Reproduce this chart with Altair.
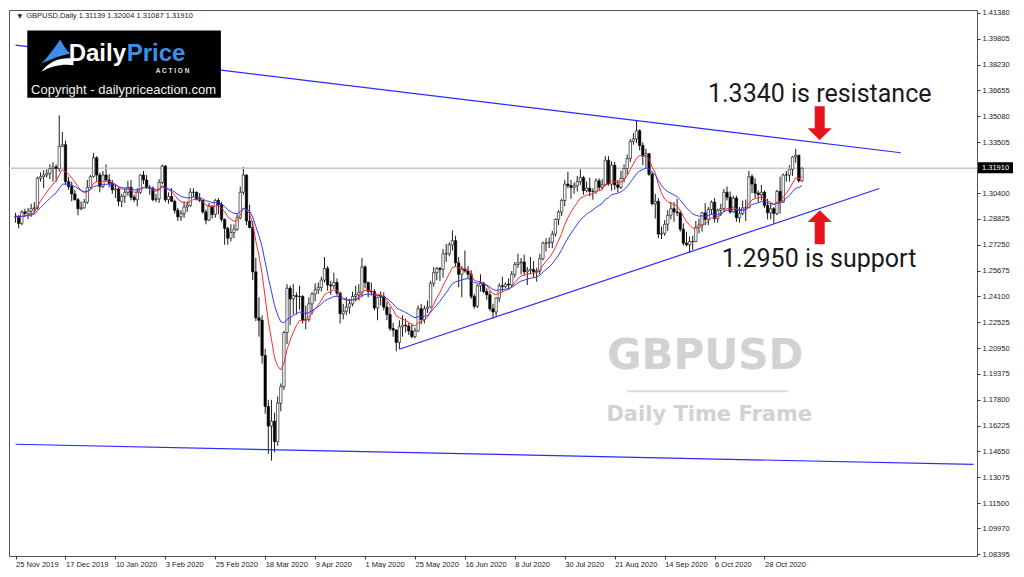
import altair as alt
import pandas as pd

# ---------------- data ----------------
x_labels = ["25 Nov 2019", "17 Dec 2019", "10 Jan 2020", "3 Feb 2020", "25 Feb 2020",
            "18 Mar 2020", "9 Apr 2020", "1 May 2020", "25 May 2020", "16 Jun 2020",
            "8 Jul 2020", "30 Jul 2020", "21 Aug 2020", "14 Sep 2020", "6 Oct 2020",
            "28 Oct 2020"]
x_label_bars = [0, 16, 32, 48, 64, 80, 96, 112, 128, 144, 160, 176, 192, 208, 224, 240]
y_ticks = [1.41380, 1.39805, 1.38230, 1.36655, 1.35080, 1.33505, 1.30400, 1.28825,
           1.27250, 1.25675, 1.24100, 1.22525, 1.20950, 1.19375, 1.17800, 1.16225,
           1.14650, 1.13075, 1.11500, 1.09970, 1.08395]

opens = [
    1.2895, 1.2900, 1.2855, 1.2925, 1.2915, 1.2930, 1.2945, 1.2950, 1.3130, 1.3140,
    1.3150, 1.3160, 1.3190, 1.3200, 1.3190, 1.3325, 1.3335, 1.3110, 1.3080, 1.3035,
    1.3000, 1.2945, 1.2950, 1.2985, 1.3075, 1.3140, 1.3255, 1.3150, 1.3080, 1.3150,
    1.3120, 1.3100, 1.3060, 1.3065, 1.2990, 1.3020, 1.3045, 1.3075, 1.3015, 1.3000,
    1.3045, 1.3150, 1.3120, 1.3075, 1.3070, 1.3000, 1.3005, 1.3105, 1.3205, 1.3000,
    1.3020, 1.2990, 1.2935, 1.2895, 1.2915, 1.2955, 1.2965, 1.3045, 1.3045, 1.3005,
    1.2995, 1.2925, 1.2875, 1.2960, 1.2910, 1.2995, 1.2970, 1.2880, 1.2825, 1.2765,
    1.2800, 1.2820, 1.2890, 1.3045, 1.3150, 1.2870, 1.2830, 1.2560, 1.2280, 1.2265,
    1.2050, 1.1740, 1.1620, 1.1650, 1.1525, 1.1760, 1.1860, 1.2190, 1.2460, 1.2395,
    1.2415, 1.2410, 1.2410, 1.2265, 1.2270, 1.2365, 1.2425, 1.2450, 1.2465, 1.2510,
    1.2580, 1.2480, 1.2475, 1.2495, 1.2430, 1.2305, 1.2320, 1.2345, 1.2365, 1.2410,
    1.2420, 1.2435, 1.2590, 1.2495, 1.2440, 1.2440, 1.2340, 1.2405, 1.2410, 1.2345,
    1.2300, 1.2215, 1.2205, 1.2130, 1.2225, 1.2235, 1.2230, 1.2200, 1.2165, 1.2200,
    1.2335, 1.2270, 1.2335, 1.2345, 1.2490, 1.2555, 1.2580, 1.2575, 1.2670, 1.2670,
    1.2725, 1.2750, 1.2615, 1.2545, 1.2575, 1.2565, 1.2545, 1.2410, 1.2350, 1.2475,
    1.2490, 1.2440, 1.2420, 1.2335, 1.2315, 1.2400, 1.2475, 1.2470, 1.2485, 1.2480,
    1.2545, 1.2605, 1.2615, 1.2620, 1.2560, 1.2570, 1.2575, 1.2560, 1.2565, 1.2640,
    1.2735, 1.2735, 1.2740, 1.2790, 1.2880, 1.2925, 1.2995, 1.3095, 1.3085, 1.3075,
    1.3085, 1.3110, 1.3135, 1.3055, 1.3070, 1.3050, 1.3050, 1.3115, 1.3075, 1.3090,
    1.3240, 1.3095, 1.3210, 1.3090, 1.3075, 1.3130, 1.3190, 1.3250, 1.3355, 1.3370,
    1.3420, 1.3330, 1.3265, 1.3280, 1.3155, 1.2975, 1.2990, 1.2790, 1.2795, 1.2850,
    1.2905, 1.2945, 1.2925, 1.2920, 1.2820, 1.2735, 1.2725, 1.2745, 1.2745, 1.2830,
    1.2845, 1.2920, 1.2880, 1.2940, 1.2985, 1.2885, 1.2935, 1.2945, 1.3045, 1.3015,
    1.2925, 1.3010, 1.2890, 1.2915, 1.2950, 1.2950, 1.3140, 1.3095, 1.3040, 1.3030,
    1.3045, 1.2965, 1.2920, 1.2945, 1.2915, 1.3050, 1.2985, 1.3150, 1.3150, 1.3185,
    1.3260, 1.3270, 1.3114]
highs = [
    1.2920, 1.2905, 1.2935, 1.2945, 1.2950, 1.2975, 1.2985, 1.3140, 1.3165, 1.3180,
    1.3185, 1.3215, 1.3230, 1.3215, 1.3514, 1.3412, 1.3360, 1.3140, 1.3110, 1.3060,
    1.3010, 1.2990, 1.3005, 1.3120, 1.3150, 1.3285, 1.3265, 1.3165, 1.3175, 1.3215,
    1.3155, 1.3120, 1.3095, 1.3075, 1.3035, 1.3070, 1.3115, 1.3120, 1.3030, 1.3070,
    1.3155, 1.3175, 1.3150, 1.3090, 1.3080, 1.3035, 1.3125, 1.3215, 1.3210, 1.3045,
    1.3070, 1.3000, 1.2950, 1.2935, 1.2990, 1.2990, 1.3070, 1.3070, 1.3050, 1.3040,
    1.3000, 1.2940, 1.2980, 1.2965, 1.3005, 1.3010, 1.2985, 1.2885, 1.2835, 1.2850,
    1.2850, 1.2910, 1.3080, 1.3200, 1.3155, 1.2970, 1.2870, 1.2645, 1.2405, 1.2295,
    1.2090, 1.1780, 1.1780, 1.1700, 1.1800, 1.1880, 1.2200, 1.2485, 1.2475, 1.2485,
    1.2435, 1.2475, 1.2420, 1.2355, 1.2405, 1.2435, 1.2490, 1.2495, 1.2530, 1.2650,
    1.2595, 1.2505, 1.2555, 1.2520, 1.2440, 1.2365, 1.2405, 1.2395, 1.2440, 1.2475,
    1.2485, 1.2645, 1.2600, 1.2500, 1.2495, 1.2455, 1.2410, 1.2440, 1.2435, 1.2375,
    1.2345, 1.2250, 1.2210, 1.2265, 1.2295, 1.2275, 1.2250, 1.2245, 1.2220, 1.2355,
    1.2365, 1.2355, 1.2385, 1.2505, 1.2590, 1.2590, 1.2590, 1.2700, 1.2730, 1.2740,
    1.2812, 1.2780, 1.2650, 1.2595, 1.2690, 1.2595, 1.2570, 1.2425, 1.2485, 1.2545,
    1.2500, 1.2460, 1.2445, 1.2365, 1.2405, 1.2490, 1.2530, 1.2495, 1.2520, 1.2565,
    1.2620, 1.2670, 1.2645, 1.2665, 1.2590, 1.2650, 1.2625, 1.2585, 1.2670, 1.2745,
    1.2765, 1.2770, 1.2810, 1.2885, 1.2935, 1.3005, 1.3120, 1.3170, 1.3120, 1.3105,
    1.3145, 1.3185, 1.3145, 1.3110, 1.3135, 1.3070, 1.3130, 1.3130, 1.3125, 1.3265,
    1.3265, 1.3235, 1.3230, 1.3120, 1.3175, 1.3215, 1.3275, 1.3370, 1.3405, 1.3482,
    1.3430, 1.3350, 1.3310, 1.3285, 1.3170, 1.3035, 1.3010, 1.2835, 1.2875, 1.2935,
    1.2985, 1.2985, 1.3005, 1.2935, 1.2855, 1.2805, 1.2775, 1.2780, 1.2870, 1.2885,
    1.2925, 1.2980, 1.2955, 1.2995, 1.3010, 1.2945, 1.2975, 1.3065, 1.3080, 1.3050,
    1.3025, 1.3025, 1.2955, 1.2995, 1.3000, 1.3175, 1.3155, 1.3130, 1.3055, 1.3090,
    1.3055, 1.3005, 1.2980, 1.2955, 1.3060, 1.3140, 1.3160, 1.3175, 1.3210, 1.3265,
    1.3310, 1.3275, 1.3200]
lows = [
    1.2860, 1.2825, 1.2845, 1.2895, 1.2880, 1.2895, 1.2915, 1.2940, 1.3110, 1.3070,
    1.3135, 1.3125, 1.3110, 1.3110, 1.3170, 1.3320, 1.3090, 1.3060, 1.2990, 1.2995,
    1.2905, 1.2935, 1.2945, 1.2975, 1.3070, 1.3135, 1.3110, 1.3045, 1.3070, 1.3110,
    1.3075, 1.3035, 1.3010, 1.2960, 1.2955, 1.2980, 1.3025, 1.2995, 1.2985, 1.2960,
    1.3035, 1.3095, 1.3065, 1.3030, 1.2990, 1.2985, 1.2980, 1.3095, 1.2985, 1.2975,
    1.2985, 1.2915, 1.2870, 1.2870, 1.2890, 1.2925, 1.2955, 1.3015, 1.2995, 1.2985,
    1.2915, 1.2850, 1.2870, 1.2885, 1.2890, 1.2910, 1.2865, 1.2725, 1.2725, 1.2745,
    1.2765, 1.2810, 1.2880, 1.3030, 1.2845, 1.2825, 1.2510, 1.2260, 1.2165, 1.2000,
    1.1695, 1.1450, 1.1409, 1.1460, 1.1500, 1.1710, 1.1840, 1.2120, 1.2235, 1.2300,
    1.2300, 1.2330, 1.2245, 1.2210, 1.2255, 1.2300, 1.2380, 1.2425, 1.2440, 1.2495,
    1.2445, 1.2420, 1.2455, 1.2415, 1.2245, 1.2270, 1.2295, 1.2305, 1.2350, 1.2380,
    1.2385, 1.2405, 1.2460, 1.2405, 1.2415, 1.2325, 1.2265, 1.2355, 1.2325, 1.2265,
    1.2200, 1.2165, 1.2075, 1.2090, 1.2165, 1.2190, 1.2175, 1.2155, 1.2155, 1.2195,
    1.2240, 1.2245, 1.2310, 1.2340, 1.2470, 1.2510, 1.2505, 1.2525, 1.2620, 1.2655,
    1.2690, 1.2590, 1.2465, 1.2405, 1.2555, 1.2520, 1.2395, 1.2335, 1.2340, 1.2440,
    1.2430, 1.2390, 1.2320, 1.2275, 1.2290, 1.2375, 1.2440, 1.2460, 1.2450, 1.2470,
    1.2525, 1.2585, 1.2545, 1.2540, 1.2480, 1.2545, 1.2525, 1.2500, 1.2545, 1.2630,
    1.2685, 1.2705, 1.2705, 1.2775, 1.2845, 1.2900, 1.2960, 1.3070, 1.3005, 1.3035,
    1.3050, 1.3090, 1.3030, 1.3045, 1.3020, 1.3000, 1.3035, 1.3055, 1.3060, 1.3085,
    1.3085, 1.3055, 1.3060, 1.3045, 1.3065, 1.3105, 1.3150, 1.3230, 1.3335, 1.3345,
    1.3300, 1.3210, 1.3190, 1.3145, 1.2965, 1.2885, 1.2765, 1.2760, 1.2780, 1.2810,
    1.2880, 1.2865, 1.2900, 1.2805, 1.2720, 1.2715, 1.2675, 1.2695, 1.2740, 1.2795,
    1.2805, 1.2845, 1.2845, 1.2910, 1.2860, 1.2860, 1.2900, 1.2930, 1.2995, 1.2915,
    1.2920, 1.2865, 1.2860, 1.2905, 1.2870, 1.2950, 1.3040, 1.3010, 1.2985, 1.2995,
    1.2950, 1.2880, 1.2880, 1.2855, 1.2905, 1.2915, 1.2980, 1.3110, 1.3110, 1.3145,
    1.3225, 1.3105, 1.3109]
closes = [
    1.2900, 1.2855, 1.2925, 1.2915, 1.2930, 1.2945, 1.2950, 1.3130, 1.3140, 1.3150,
    1.3160, 1.3190, 1.3200, 1.3190, 1.3325, 1.3335, 1.3110, 1.3080, 1.3035, 1.3000,
    1.2945, 1.2950, 1.2985, 1.3075, 1.3140, 1.3255, 1.3150, 1.3080, 1.3150, 1.3120,
    1.3100, 1.3060, 1.3065, 1.2990, 1.3020, 1.3045, 1.3075, 1.3015, 1.3000, 1.3045,
    1.3150, 1.3120, 1.3075, 1.3070, 1.3000, 1.3005, 1.3105, 1.3205, 1.3000, 1.3020,
    1.2990, 1.2935, 1.2895, 1.2915, 1.2955, 1.2965, 1.3045, 1.3045, 1.3005, 1.2995,
    1.2925, 1.2875, 1.2960, 1.2910, 1.2995, 1.2970, 1.2880, 1.2825, 1.2765, 1.2800,
    1.2820, 1.2890, 1.3045, 1.3150, 1.2870, 1.2830, 1.2560, 1.2280, 1.2265, 1.2050,
    1.1740, 1.1620, 1.1650, 1.1525, 1.1760, 1.1860, 1.2190, 1.2460, 1.2395, 1.2415,
    1.2410, 1.2410, 1.2265, 1.2270, 1.2365, 1.2425, 1.2450, 1.2465, 1.2510, 1.2580,
    1.2480, 1.2475, 1.2495, 1.2430, 1.2305, 1.2320, 1.2345, 1.2365, 1.2410, 1.2420,
    1.2435, 1.2590, 1.2495, 1.2440, 1.2440, 1.2340, 1.2405, 1.2410, 1.2345, 1.2300,
    1.2215, 1.2205, 1.2130, 1.2225, 1.2235, 1.2230, 1.2200, 1.2165, 1.2200, 1.2335,
    1.2270, 1.2335, 1.2345, 1.2490, 1.2555, 1.2580, 1.2575, 1.2670, 1.2670, 1.2725,
    1.2750, 1.2615, 1.2545, 1.2575, 1.2565, 1.2545, 1.2410, 1.2350, 1.2475, 1.2490,
    1.2440, 1.2420, 1.2335, 1.2315, 1.2400, 1.2475, 1.2470, 1.2485, 1.2480, 1.2545,
    1.2605, 1.2615, 1.2620, 1.2560, 1.2570, 1.2575, 1.2560, 1.2565, 1.2640, 1.2735,
    1.2735, 1.2740, 1.2790, 1.2880, 1.2925, 1.2995, 1.3095, 1.3085, 1.3075, 1.3085,
    1.3110, 1.3135, 1.3055, 1.3070, 1.3050, 1.3050, 1.3115, 1.3075, 1.3090, 1.3240,
    1.3095, 1.3210, 1.3090, 1.3075, 1.3130, 1.3190, 1.3250, 1.3355, 1.3370, 1.3420,
    1.3330, 1.3265, 1.3280, 1.3155, 1.2975, 1.2990, 1.2790, 1.2795, 1.2850, 1.2905,
    1.2945, 1.2925, 1.2920, 1.2820, 1.2735, 1.2725, 1.2745, 1.2745, 1.2830, 1.2845,
    1.2920, 1.2880, 1.2940, 1.2985, 1.2885, 1.2935, 1.2945, 1.3045, 1.3015, 1.2925,
    1.3010, 1.2890, 1.2915, 1.2950, 1.2950, 1.3140, 1.3095, 1.3040, 1.3030, 1.3045,
    1.2965, 1.2920, 1.2945, 1.2915, 1.3050, 1.2985, 1.3150, 1.3150, 1.3185, 1.3260,
    1.3270, 1.3115, 1.3191]

current_price = 1.31910
header_text = "GBPUSD,Daily  1.31139 1.32004 1.31087 1.31910"

# trend lines: (bar index, price) end points
resistance_bars = [0, 283.7]
resistance_prices = [1.3942, 1.3286]
support_bars = [122.9, 276.8]
support_prices = [1.2088, 1.3068]
bottom_bars = [0, 307]
bottom_prices = [1.1509, 1.1386]

# ---------------- build chart ----------------
W, H = 968, 546
n = min(len(opens), len(highs), len(lows), len(closes))
df = pd.DataFrame({"i": list(range(n)), "o": opens[:n], "h": highs[:n],
                   "l": lows[:n], "c": closes[:n]})
cs = pd.Series(closes[:n])
ma = pd.DataFrame({"i": list(range(n)),
                   "fast": cs.ewm(span=10, adjust=False).mean(),
                   "slow": cs.ewm(span=20, adjust=False).mean()})

xs = alt.Scale(domain=[-0.5, 306.5], nice=False, zero=False)
ys = alt.Scale(domain=[1.0828, 1.4156], nice=False, zero=False)

label_js = "[" + ",".join("'%s'" % s for s in x_labels) + "]"
xaxis = alt.Axis(values=x_label_bars, labelExpr=label_js + "[round(datum.value/16)]",
                 labelAlign="left", labelFontSize=7.5, labelFont="Liberation Sans",
                 labelColor="#222", tickSize=3, tickColor="#333", domain=False,
                 grid=False, title=None, labelPadding=1, labelFlush=False,
                 labelOverlap=False, labelBound=False)
yaxis = alt.Axis(orient="right", values=y_ticks, format=".5f", labelFontSize=7.5,
                 labelFont="Liberation Sans", labelColor="#222", tickSize=3,
                 tickColor="#333", domain=False, grid=False, title=None,
                 labelPadding=2, labelFlush=False, labelOverlap=False)


def X(f):
    return alt.X(f, type="quantitative", scale=xs, axis=xaxis)


def Y(f):
    return alt.Y(f, type="quantitative", scale=ys, axis=yaxis)


# watermark
wm = pd.DataFrame({"i": [221.0], "p": [1.2046], "t": ["GBPUSD"]})
wm2 = pd.DataFrame({"i": [222.3], "p": [1.1690], "t": ["Daily Time Frame"]})
wm_line = pd.DataFrame({"i": [195.9], "i2": [247.6], "p": [1.1832]})
l_wm = alt.Chart(wm).mark_text(font="DejaVu Sans", fontWeight="bold", fontSize=42,
                               color="#d2d2d2", baseline="middle").encode(
    x=X("i"), y=Y("p"), text="t:N")
l_wm2 = alt.Chart(wm2).mark_text(font="DejaVu Sans", fontWeight="bold", fontSize=21,
                                 color="#d2d2d2", baseline="middle").encode(
    x=X("i"), y=Y("p"), text="t:N")
l_wml = alt.Chart(wm_line).mark_rule(color="#dcdcdc", strokeWidth=2).encode(
    x=X("i"), x2="i2", y=Y("p"))

# current price line
cur = pd.DataFrame({"p": [current_price], "t": ["%.5f" % current_price]})
l_cur = alt.Chart(cur).mark_rule(color="#c8c8c8", strokeWidth=1.5).encode(y=Y("p"))

# trend lines
tl = pd.DataFrame({
    "i": resistance_bars + support_bars + bottom_bars,
    "p": resistance_prices + support_prices + bottom_prices,
    "g": ["r", "r", "s", "s", "b", "b"]})
l_tl = alt.Chart(tl).mark_line(color="#2b2bff", strokeWidth=1.2, clip=True).encode(
    x=X("i"), y=Y("p"), detail="g:N")

# candles
l_wick = alt.Chart(df).mark_rule(color="black", strokeWidth=0.9).encode(
    x=X("i"), y=Y("l"), y2="h")
l_body = alt.Chart(df).mark_bar(size=2.4, stroke="black", strokeWidth=0.6).encode(
    x=X("i"), y=Y("o"), y2="c",
    fill=alt.condition("datum.c >= datum.o", alt.value("white"), alt.value("black")))

# moving averages
l_fast = alt.Chart(ma).mark_line(color="#ff2a2a", strokeWidth=1).encode(x=X("i"), y=Y("fast"))
l_slow = alt.Chart(ma).mark_line(color="#2f3cff", strokeWidth=1).encode(x=X("i"), y=Y("slow"))

# annotations
ann = pd.DataFrame({"i": [257.7, 257.5], "p": [1.3645, 1.2640],
                    "t": ["1.3340 is resistance", "1.2950 is support"]})
l_ann = alt.Chart(ann).mark_text(font="Roboto", fontSize=25, color="#1a1a1a",
                                 baseline="middle").encode(x=X("i"), y=Y("p"), text="t:N")
down_arrow = "M -0.294 -1 L 0.294 -1 L 0.294 0.3 L 0.706 0.3 L 0 1 L -0.706 0.3 L -0.294 0.3 Z"
up_arrow = "M 0 -1 L 0.706 -0.3 L 0.294 -0.3 L 0.294 1 L -0.294 1 L -0.294 -0.3 L -0.706 -0.3 Z"
l_ad = alt.Chart(pd.DataFrame({"i": [257.7], "p": [1.3466]})).mark_point(
    shape=down_arrow, size=1156, filled=True, color="#e8141c", opacity=1).encode(
    x=X("i"), y=Y("p"))
l_au = alt.Chart(pd.DataFrame({"i": [257.7], "p": [1.2832]})).mark_point(
    shape=up_arrow, size=1156, filled=True, color="#e8141c", opacity=1).encode(
    x=X("i"), y=Y("p"))

# logo
logo = pd.DataFrame({"i": [3.76], "i2": [65.8], "p": [1.4031], "p2": [1.3621]})
l_logo = alt.Chart(logo).mark_rect(color="black").encode(
    x=X("i"), x2="i2", y=Y("p"), y2="p2")
leaf = "M -1 0.45 C -0.6 0.1 -0.2 -0.5 0.15 -1 C 0.35 -0.6 0.55 -0.35 0.75 -0.15 C 0.2 -0.05 -0.4 0.2 -1 0.45 Z"
swoosh = "M -1 0.95 C -0.5 0.3 0.2 0.05 0.95 0.15 L 0.95 0.55 C 0.3 0.45 -0.4 0.6 -1 0.95 Z"
icon = pd.DataFrame({"i": [13.5], "p": [1.3875]})
l_leaf = alt.Chart(icon).mark_point(shape=leaf, size=1100, filled=True,
                                    color="#3d8ee8", opacity=1).encode(x=X("i"), y=Y("p"))
l_sw = alt.Chart(icon).mark_point(shape=swoosh, size=1100, filled=True,
                                  color="#ffffff", opacity=1).encode(x=X("i"), y=Y("p"))
l_daily = alt.Chart(pd.DataFrame({"i": [35.4], "p": [1.3890], "t": ["Daily"]})).mark_text(
    font="Liberation Sans", fontWeight="bold", fontSize=24, color="white",
    align="right", baseline="middle").encode(x=X("i"), y=Y("p"), text="t:N")
l_price = alt.Chart(pd.DataFrame({"i": [35.6], "p": [1.3890], "t": ["Price"]})).mark_text(
    font="Liberation Sans", fontWeight="bold", fontSize=24, color="#3d8ee8",
    align="left", baseline="middle").encode(x=X("i"), y=Y("p"), text="t:N")
l_action = alt.Chart(pd.DataFrame({"i": [50.3], "p": [1.3786], "t": ["A  C  T  I  O  N"]})).mark_text(
    font="Liberation Sans", fontWeight="bold", fontSize=6.5, color="#e0e0e0",
    baseline="middle").encode(x=X("i"), y=Y("p"), text="t:N")
l_copy = alt.Chart(pd.DataFrame({"i": [34.6], "p": [1.3670],
                                 "t": ["Copyright - dailypriceaction.com"]})).mark_text(
    font="Liberation Sans", fontSize=13, color="#f2f2f2",
    baseline="middle").encode(x=X("i"), y=Y("p"), text="t:N")

# header
l_tri = alt.Chart(pd.DataFrame({"i": [1.4], "p": [1.4121], "t": ["▼"]})).mark_text(
    font="DejaVu Sans", fontSize=6, color="#222", baseline="middle").encode(
    x=X("i"), y=Y("p"), text="t:N")
l_head = alt.Chart(pd.DataFrame({"i": [3.4], "p": [1.4121], "t": [header_text]})).mark_text(
    font="Liberation Sans", fontSize=7.5, color="#222", align="left",
    baseline="middle").encode(x=X("i"), y=Y("p"), text="t:N")

# current price tag on the axis
l_tag = alt.Chart(cur).mark_rect(color="black", clip=False, yOffset=-6, y2Offset=5).encode(
    x=alt.value(W + 1), x2=alt.value(W + 36), y=Y("p"), y2="p")
l_tagt = alt.Chart(cur).mark_text(color="white", fontSize=7.5, font="Liberation Sans",
                                  align="left", baseline="middle", clip=False).encode(
    x=alt.value(W + 5), y=Y("p"), text="t:N")

chart = alt.layer(
    l_wick, l_wm, l_wm2, l_wml, l_cur, l_tl, l_body, l_fast, l_slow,
    l_ann, l_ad, l_au, l_logo, l_leaf, l_sw, l_daily, l_price, l_action, l_copy,
    l_tri, l_head, l_tag, l_tagt
).properties(width=W, height=H, padding=0, background="white").configure_view(
    stroke="#555", strokeWidth=1)

chart.save("out.html", embed_options={"renderer": "svg", "actions": False})
